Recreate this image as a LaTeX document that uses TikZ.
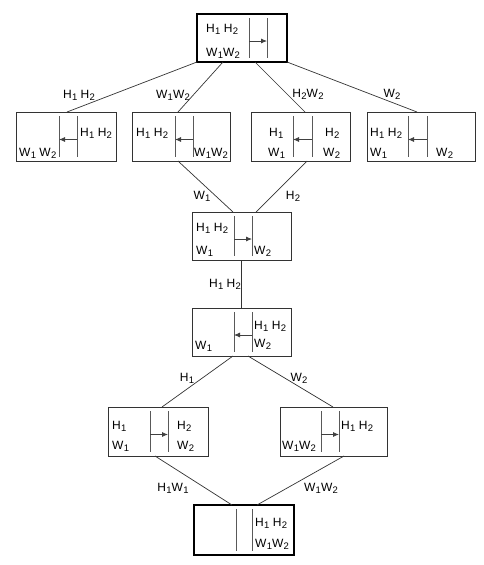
\documentclass[tikz,border=0pt]{standalone}
\usepackage{fontspec}
\setmainfont{Liberation Sans}
\usetikzlibrary{arrows.meta}
\newcommand\sub[1]{\kern0.3pt\raisebox{-2.6pt}{\fontsize{9.5}{9.5}\selectfont #1}}
% #1 node, #2 #3 x offsets of the two banks, #4 r / l / n
\newcommand\rivers[4]{%
  \draw[bank] ([xshift=#2pt,yshift=-4pt]#1.north west) -- ([xshift=#2pt,yshift=4pt]#1.south west);
  \draw[bank] ([xshift=#3pt,yshift=-4pt]#1.north west) -- ([xshift=#3pt,yshift=4pt]#1.south west);
  \if#4r\draw[boat] ([xshift=#2pt,yshift=-3pt]#1.west) -- ([xshift=#3pt,yshift=-3pt]#1.west);\fi
  \if#4l\draw[boat] ([xshift=#3pt,yshift=-3pt]#1.west) -- ([xshift=#2pt,yshift=-3pt]#1.west);\fi
}
\begin{document}
\begin{tikzpicture}[x=1pt,y=-1pt,
  state/.style={draw=black!80, line width=0.8pt, inner sep=0pt, outer sep=0pt, fill=white},
  endstate/.style={state, draw=black, line width=2.4pt},
  bank/.style={draw=black!65, line width=0.9pt},
  boat/.style={draw=black!75, line width=0.8pt, -{Latex[length=6pt,width=5pt]}},
  conn/.style={draw=black!80, line width=0.7pt},
  txt/.style={inner sep=0pt, anchor=base west, font=\fontsize{12}{14}\selectfont},
  lab/.style={inner sep=0pt, anchor=base, font=\fontsize{12}{14}\selectfont}]
\useasboundingbox (0,0) rectangle (483,565);

% boxes
\node[endstate, minimum width=90pt, minimum height=48pt] (b0) at (242,38) {};
\node[state, minimum width=100pt, minimum height=49pt] (b1) at (66,136.5) {};
\node[state, minimum width=98pt, minimum height=49pt] (b2) at (181,136.5) {};
\node[state, minimum width=99pt, minimum height=49pt] (b3) at (300.5,136.5) {};
\node[state, minimum width=108pt, minimum height=49pt] (b4) at (421,136.5) {};
\node[state, minimum width=99pt, minimum height=48pt] (b5) at (241.5,236) {};
\node[state, minimum width=99pt, minimum height=48pt] (b6) at (241.5,332) {};
\node[state, minimum width=100pt, minimum height=49pt] (b7) at (158,431.5) {};
\node[state, minimum width=107pt, minimum height=49pt] (b8) at (333.5,431.5) {};
\node[endstate, minimum width=100pt, minimum height=50pt] (b9) at (244,530) {};

% connectors
\draw[conn] (b0.south west) -- ([xshift=51pt]b1.north west);
\draw[conn] ([xshift=26pt]b0.south west) -- ([xshift=46pt]b2.north west);
\draw[conn] ([xshift=58pt]b0.south west) -- ([xshift=54pt]b3.north west);
\draw[conn] (b0.south east) -- ([xshift=50pt]b4.north west);
\draw[conn] ([xshift=46pt]b2.south west) -- ([xshift=41pt]b5.north west);
\draw[conn] ([xshift=56pt]b3.south west) -- ([xshift=64pt]b5.north west);
\draw[conn] (b5.south) -- (b6.north);
\draw[conn] ([xshift=41pt]b6.south west) -- ([xshift=54pt]b7.north west);
\draw[conn] ([xshift=56pt]b6.south west) -- ([xshift=53pt]b8.north west);
\draw[conn] ([xshift=47pt]b7.south west) -- ([xshift=38pt]b9.north west);
\draw[conn] ([xshift=64pt]b8.south west) -- ([xshift=63pt]b9.north west);

% connector labels
\node[lab] (l1) at (79,98) {H\sub1 H\sub2};
\node[lab] (l2) at (173,98) {W\sub1W\sub2};
\node[lab] (l3) at (308,97) {H\sub2W\sub2};
\node[lab] (l4) at (392,97) {W\sub2};
\node[lab] (l5) at (202,199) {W\sub1};
\node[lab] (l6) at (293,199) {H\sub2};
\node[lab] (l7) at (225,287) {H\sub1 H\sub2};
\node[lab] (l8) at (187,381) {H\sub1};
\node[lab] (l9) at (299,381) {W\sub2};
\node[lab] (l10) at (173,491) {H\sub1W\sub1};
\node[lab] (l11) at (321,491) {W\sub1W\sub2};

% river banks and boat
\rivers{b0}{52}{70}{r}
\rivers{b1}{43}{61}{l}
\rivers{b2}{43}{61}{l}
\rivers{b3}{42}{61}{l}
\rivers{b4}{41}{60}{l}
\rivers{b5}{42}{60}{r}
\rivers{b6}{42}{60}{l}
\rivers{b7}{42}{60}{r}
\rivers{b8}{41}{59}{r}
\rivers{b9}{42}{58}{n}

% box texts
\node[txt] (t0a) at (206,32) {H\sub1 H\sub2};
\node[txt] (t0b) at (206,56) {W\sub1W\sub2};
\node[txt] (t1a) at (80,136) {H\sub1 H\sub2};
\node[txt] (t1b) at (19,156) {W\sub1 W\sub2};
\node[txt] (t2a) at (136,136) {H\sub1 H\sub2};
\node[txt] (t2b) at (194,156) {W\sub1W\sub2};
\node[txt] (t3a) at (269,136) {H\sub1};
\node[txt] (t3b) at (268,156) {W\sub1};
\node[txt] (t3c) at (325,136) {H\sub2};
\node[txt] (t3d) at (323,156) {W\sub2};
\node[txt] (t4a) at (370,136) {H\sub1 H\sub2};
\node[txt] (t4b) at (370,156) {W\sub1};
\node[txt] (t4c) at (436,156) {W\sub2};
\node[txt] (t5a) at (196,231) {H\sub1 H\sub2};
\node[txt] (t5b) at (196,254) {W\sub1};
\node[txt] (t5c) at (254,254) {W\sub2};
\node[txt] (t6a) at (254,329) {H\sub1 H\sub2};
\node[txt] (t6b) at (195,349) {W\sub1};
\node[txt] (t6c) at (254,347) {W\sub2};
\node[txt] (t7a) at (112,429) {H\sub1};
\node[txt] (t7b) at (112,449) {W\sub1};
\node[txt] (t7c) at (177,429) {H\sub2};
\node[txt] (t7d) at (177,449) {W\sub2};
\node[txt] (t8a) at (282,449) {W\sub1W\sub2};
\node[txt] (t8b) at (341,429) {H\sub1 H\sub2};
\node[txt] (t9a) at (255,526) {H\sub1 H\sub2};
\node[txt] (t9b) at (255,547) {W\sub1W\sub2};
\end{tikzpicture}
\end{document}
